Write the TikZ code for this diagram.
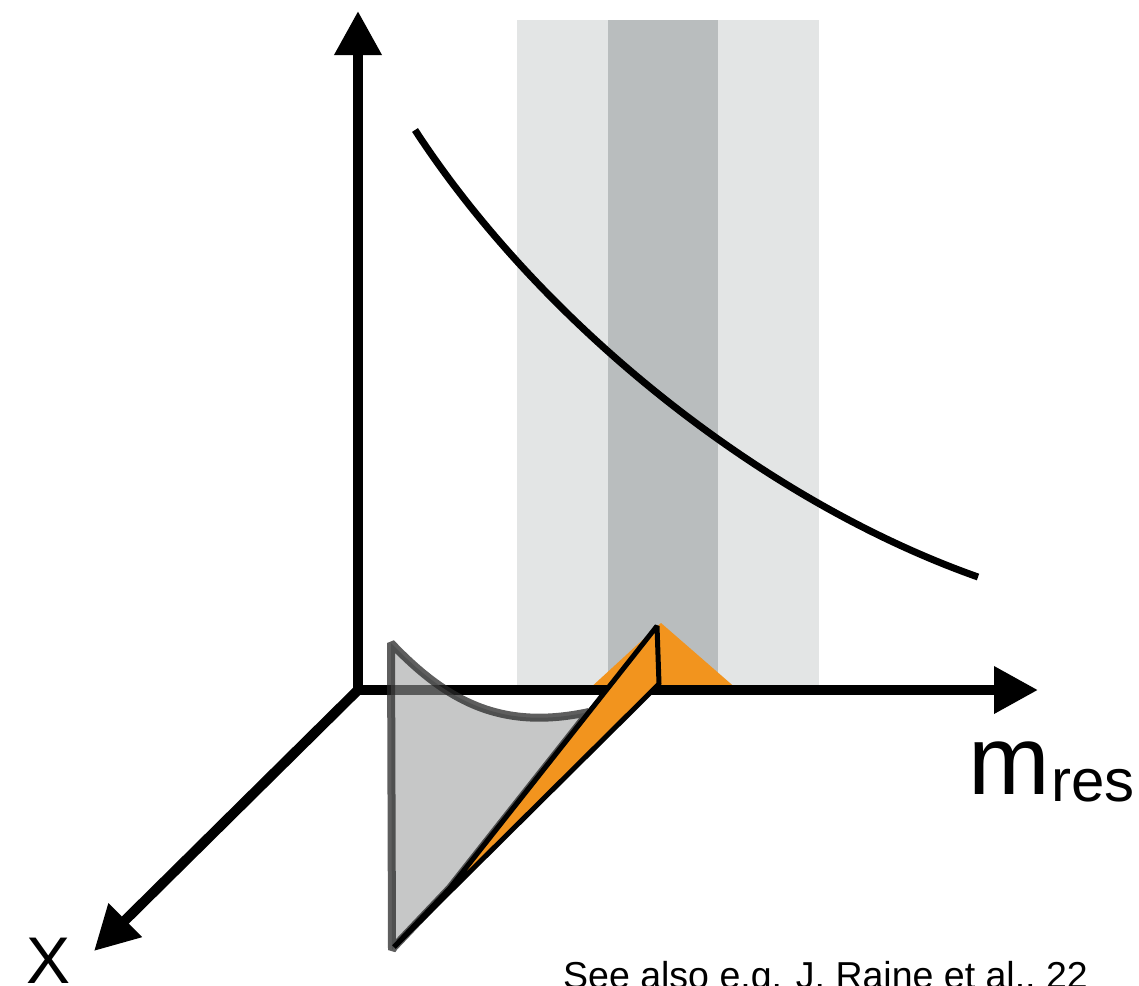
\documentclass[tikz,border=0pt]{standalone}
\usepackage{fontspec}
\setmainfont{Liberation Sans}
\usetikzlibrary{arrows.meta}
\definecolor{bandlight}{RGB}{227,229,229}
\definecolor{banddark}{RGB}{185,189,190}
\definecolor{peakorange}{RGB}{242,148,30}
\definecolor{shadefill}{RGB}{156,158,158}
\definecolor{shadeline}{RGB}{40,40,40}
\tikzset{
  axis/.style={line width=10pt, -{Triangle[length=44pt,width=45pt]}},
  curveline/.style={line width=7pt},
  shade/.style={fill=shadefill, fill opacity=0.58, draw=shadeline, draw opacity=0.75, line width=8pt, line join=bevel},
  sliver/.style={fill=peakorange, draw=black, line width=5pt, line join=bevel},
  lbl/.style={inner sep=0pt, anchor=base west}
}
\begin{document}
\begin{tikzpicture}[x=1pt,y=-1pt]
\useasboundingbox (0,0) rectangle (1139,985);
\clip (0,0) rectangle (1139,985);
% bands
\fill[bandlight] (517,20) rectangle (819,688);
\fill[banddark] (608,20) rectangle (718,688);
% curve
\coordinate (c0) at (415,130);
\coordinate (c1) at (978,577);
\draw[curveline] (c0) .. controls (540,322) and (760,500) .. (c1);
% orange peak
\coordinate (pl) at (588,690);
\coordinate (pt) at (661,623);
\coordinate (pr) at (738,690);
\fill[peakorange] (pl) -- (pt) -- (pr) -- cycle;
% axes
\coordinate (o) at (358,690);
\coordinate (ytip) at (358,11);
\coordinate (mtip) at (1038,690);
\coordinate (xtip) at (94,951);
\draw[axis] ([yshift=5pt]o) -- (ytip);
\draw[axis] ([xshift=-5pt]o) -- (mtip);
\draw[axis] (o) -- (xtip);
% sliver corners
\coordinate (s1) at (657,626);
\coordinate (s2) at (659,684);
\coordinate (s3) at (394,947);
\coordinate (s4) at (450,888);
% grey shape
\coordinate (g1) at (391,643);
\coordinate (g2) at (589,712);
\coordinate (g4) at (392,950);
\path[shade] (g2) -- (s4) -- (s3) -- (g4) -- (g1) .. controls (450,705) and (505,730) .. (g2);
% orange sliver
\draw[sliver] (s1) -- (s2) -- (s3) -- (s4) -- cycle;
% labels
\node[lbl, font=\fontsize{98}{98}\selectfont] (m) at (968,794) {m};
\node[lbl, font=\fontsize{60}{60}\selectfont] (res) at (1051,801) {res};
\node[lbl, font=\fontsize{66}{66}\selectfont] (xl) at (26,983) {X};
\node[lbl, font=\fontsize{37.5}{37.5}\selectfont] (note) at (563,988) {See also e.g. J. Raine et al., 22};
\end{tikzpicture}
\end{document}
